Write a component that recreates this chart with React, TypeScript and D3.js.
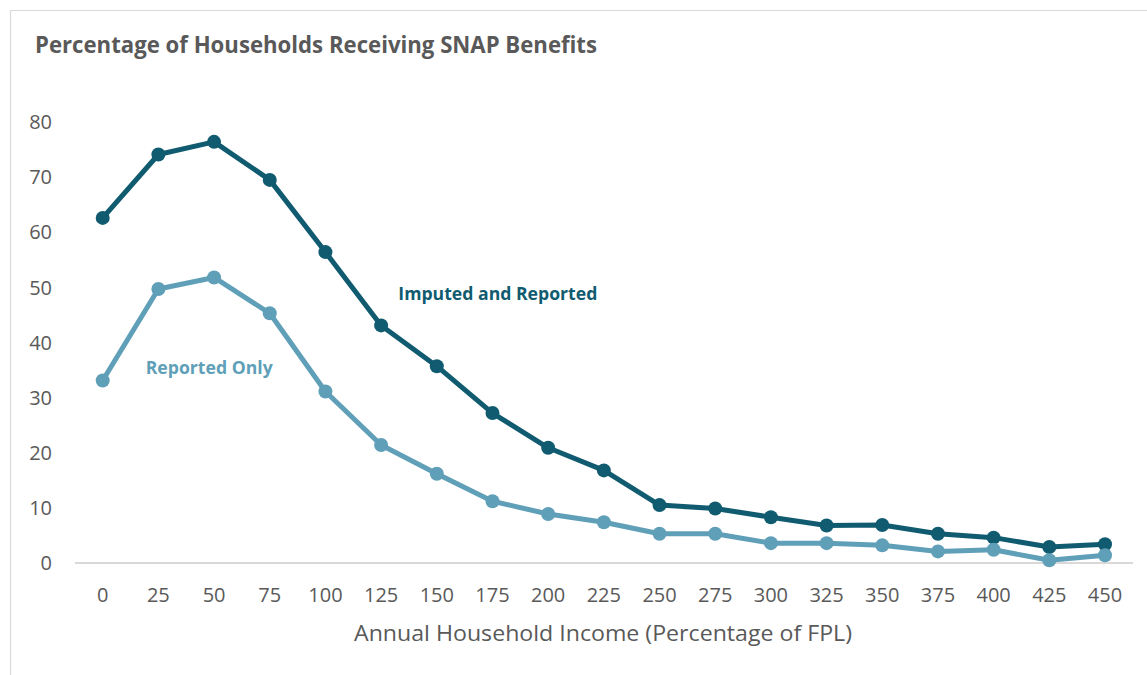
import React from "react";
import * as d3 from "d3";

// Income bands as a percentage of the federal poverty level
const incomeLevels = [0, 25, 50, 75, 100, 125, 150, 175, 200, 225, 250, 275, 300, 325, 350, 375, 400, 425, 450];

// Share of households receiving SNAP (%)
const imputedAndReported = [62.6, 74.1, 76.4, 69.5, 56.4, 43.1, 35.7, 27.2, 20.9, 16.8, 10.5, 9.9, 8.3, 6.8, 6.9, 5.3, 4.6, 2.9, 3.4];
const reportedOnly = [33.1, 49.7, 51.8, 45.3, 31.1, 21.4, 16.2, 11.2, 8.9, 7.4, 5.3, 5.3, 3.6, 3.6, 3.2, 2.1, 2.4, 0.5, 1.4];

const yTicks = [0, 10, 20, 30, 40, 50, 60, 70, 80];

const W = 1147;
const H = 675;
const DARK = "#115B70";
const LIGHT = "#609FB8";
const TEXT = "#595959";
const FONT = "'Open Sans', 'Noto Sans', sans-serif";

export default function App() {
  const x = d3.scaleLinear().domain([0, 450]).range([102.7, 1105]);
  const y = d3.scaleLinear().domain([0, 80]).range([563, 122]);

  const line = d3
    .line<number>()
    .x((_, i) => x(incomeLevels[i]))
    .y((d) => y(d));

  const series = [
    { name: "Imputed and Reported", values: imputedAndReported, color: DARK },
    { name: "Reported Only", values: reportedOnly, color: LIGHT },
  ];

  return (
    <svg
      width={W}
      height={H}
      style={{ position: "absolute", left: 0, top: 0, background: "#fff" }}
      fontFamily={FONT}
    >
      <rect x={0} y={0} width={W} height={H} fill="#fff" />
      {/* chart frame */}
      <path d={`M10.5,${H} V10.5 H${W}`} fill="none" stroke="#D9D9D9" strokeWidth={1.2} />

      <text
        x={35}
        y={53.3}
        fontSize={23}
        fontWeight={700}
        fill={TEXT}
        textLength={562}
        lengthAdjust="spacingAndGlyphs"
      >
        Percentage of Households Receiving SNAP Benefits
      </text>

      {/* y axis labels */}
      {yTicks.map((t) => (
        <text key={t} x={52} y={y(t)} dy="0.36em" textAnchor="end" fontSize={20} fill={TEXT}>
          {t}
        </text>
      ))}

      {/* baseline */}
      <line x1={75} x2={1133} y1={y(0)} y2={y(0)} stroke="#D9D9D9" strokeWidth={2} />

      {/* x axis labels */}
      {incomeLevels.map((v) => (
        <text key={v} x={x(v)} y={601.7} textAnchor="middle" fontSize={20} fill={TEXT}>
          {v}
        </text>
      ))}

      <text
        x={354}
        y={640.7}
        fontSize={21}
        fill={TEXT}
        textLength={498}
        lengthAdjust="spacingAndGlyphs"
      >
        Annual Household Income (Percentage of FPL)
      </text>

      {series.map((s) => (
        <g key={s.name}>
          <path d={line(s.values) || ""} fill="none" stroke={s.color} strokeWidth={5} strokeLinejoin="round" />
          {s.values.map((v, i) => (
            <circle key={i} cx={x(incomeLevels[i])} cy={y(v)} r={7} fill={s.color} />
          ))}
        </g>
      ))}

      <text
        x={398.3}
        y={300}
        fontSize={18.5}
        fontWeight={700}
        fill={DARK}
        textLength={199}
        lengthAdjust="spacingAndGlyphs"
      >
        Imputed and Reported
      </text>
      <text
        x={145.7}
        y={374}
        fontSize={18}
        fontWeight={700}
        fill={LIGHT}
        textLength={127}
        lengthAdjust="spacingAndGlyphs"
      >
        Reported Only
      </text>
    </svg>
  );
}
